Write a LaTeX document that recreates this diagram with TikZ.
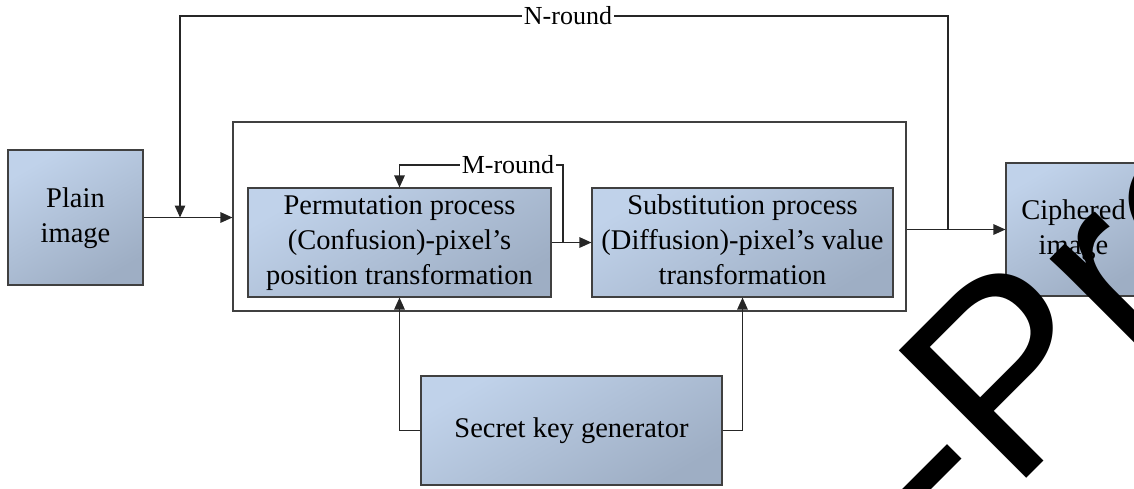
\documentclass[tikz,border=0pt]{standalone}
\usepackage{fontspec}
\setmainfont{Liberation Serif}
\newfontfamily\wmfont{Liberation Sans}
\usetikzlibrary{arrows.meta}
\definecolor{boxlight}{RGB}{192,210,234}
\definecolor{boxdark}{RGB}{158,174,196}
\definecolor{edgegray}{RGB}{64,64,64}
\begin{document}
\begin{tikzpicture}[x=1pt,y=-1pt,
  blk/.style={draw=edgegray, line width=1.1pt, top color=boxlight, bottom color=boxdark,
    shading angle=30, align=center, inner sep=0pt,
    font=\fontsize{28.5}{35}\selectfont},
  frm/.style={draw=edgegray, line width=1.1pt, inner sep=0pt},
  wire/.style={draw=black!85, line width=1.3pt},
  arr/.style={wire, -{Triangle[length=12pt,width=10.5pt]}},
  lbl/.style={fill=white, inner sep=1.5pt, font=\fontsize{26}{30}\selectfont},
  wm/.style={inner sep=0pt, text=black, font=\fontsize{262}{262}\selectfont\wmfont}]
\useasboundingbox (0,0) rectangle (1134,488);
\clip (0,0) rectangle (1134,488);

% blocks
\node[frm, minimum width=673pt, minimum height=189pt] (frame) at (569.5,216.5) {};
\node[blk, minimum width=135pt, minimum height=135pt] (plain) at (75.5,217.5)
  {\strut Plain\\image\strut};
\node[blk, minimum width=303pt, minimum height=109pt] (perm) at (399.5,242.5)
  {\strut Permutation process\\(Confusion)-pixel’s\\position transformation\strut};
\node[blk, minimum width=301pt, minimum height=109pt] (subst) at (742.5,242.5)
  {\strut Substitution process\\(Diffusion)-pixel’s value\\transformation\strut};
\node[blk, minimum width=301pt, minimum height=109pt] (key) at (571.5,430.5)
  {\strut Secret key generator};
\node[blk, minimum width=135pt, minimum height=133pt] (ciph) at (1073.5,229.5)
  {\strut Ciphered\\image\strut};

% helper points
\coordinate (njoin) at (180,217.5);
\coordinate (nsplit) at (948,229.5);
\coordinate (ntr) at (948,16);
\coordinate (ntl) at (180,16);
\coordinate (msplit) at (563,242.5);
\coordinate (mtr) at (563,165);
\coordinate (mtl) at (399.5,165);

% main flow
\draw[arr] (plain.east) -- (plain.east -| frame.west);
\draw[arr] (perm.east) -- (subst.west);
\draw[arr] (frame.east |- ciph.west) -- (ciph.west);

% N-round loop
\draw[arr] (nsplit) -- (ntr) -- (ntl) -- (njoin);
\node[lbl] (nlbl) at (568,16) {N-round};

% M-round loop
\draw[arr] (msplit) -- (mtr) -- (mtl) -- (perm.north);
\node[lbl] (mlbl) at (508,165) {M-round};

% key inputs
\draw[arr] (key.west) -| (perm.south);
\draw[arr] (key.east) -| (subst.south);

% overlay lettering
\node[wm, anchor=base west, rotate=45] (wmark) at (950,555) {-Pro};
\end{tikzpicture}
\end{document}
